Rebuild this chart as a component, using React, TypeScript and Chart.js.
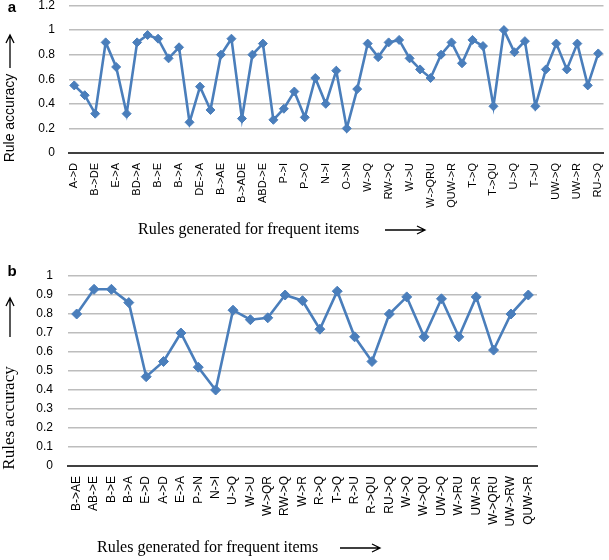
import React, { useEffect, useRef } from "react";
import { Chart, registerables } from "chart.js";

Chart.register(...registerables);

// ---------- Data ----------
// Chart a: only every other category name is printed on the axis
const shownLabelsA = [
  "A->D", "B->DE", "E->A", "BD->A", "B->E", "B->A", "DE->A", "B->AE", "B->ADE",
  "ABD->E", "P->I", "P->O", "N->I", "O->N", "W->Q", "RW->Q", "W->U", "W->QRU",
  "QUW->R", "T->Q", "T->QU", "U->Q", "T->U", "UW->Q", "UW->R", "RU->Q",
];
const valuesA = [
  0.55, 0.47, 0.32, 0.9, 0.7, 0.32, 0.9, 0.96, 0.93, 0.77, 0.86, 0.25, 0.54,
  0.35, 0.8, 0.93, 0.28, 0.8, 0.89, 0.27, 0.36, 0.5, 0.29, 0.61, 0.4, 0.67,
  0.2, 0.52, 0.89, 0.78, 0.9, 0.92, 0.77, 0.68, 0.61, 0.8, 0.9, 0.73, 0.92,
  0.87, 0.38, 1.0, 0.82, 0.91, 0.38, 0.68, 0.89, 0.68, 0.89, 0.55, 0.81,
];

const labelsB = [
  "B->AE", "AB->E", "B->E", "B->A", "E->D", "A->D", "E->A", "P->N", "N->I",
  "U->Q", "W->U", "W->QR", "RW->Q", "W->R", "R->Q", "T->Q", "R->U", "R->QU",
  "RU->Q", "W->Q", "W->QU", "UW->Q", "W->RU", "UW->R", "W->QRU", "UW->RW", "QUW->R",
];
const valuesB = [
  0.8, 0.93, 0.93, 0.86, 0.47, 0.55, 0.7, 0.52, 0.4, 0.82, 0.77, 0.78, 0.9,
  0.87, 0.72, 0.92, 0.68, 0.55, 0.8, 0.89, 0.68, 0.88, 0.68, 0.89, 0.61, 0.8, 0.9,
];

const categoriesA = valuesA.map((_, i) => (i % 2 === 0 ? shownLabelsA[i / 2] : ""));

const BLUE = "#4A7EBB";
const SANS = "'Liberation Sans', Arial, sans-serif";
const SERIF = "'Liberation Serif', 'Times New Roman', serif";

function drawArrow(ctx: CanvasRenderingContext2D, x1: number, y1: number, x2: number, y2: number) {
  const ang = Math.atan2(y2 - y1, x2 - x1);
  const hl = 8, hw = 4;
  ctx.save();
  ctx.strokeStyle = "#000";
  ctx.lineWidth = 1.3;
  ctx.beginPath();
  ctx.moveTo(x1, y1);
  ctx.lineTo(x2, y2);
  ctx.moveTo(x2 - hl * Math.cos(ang) + hw * Math.sin(ang), y2 - hl * Math.sin(ang) - hw * Math.cos(ang));
  ctx.lineTo(x2, y2);
  ctx.lineTo(x2 - hl * Math.cos(ang) - hw * Math.sin(ang), y2 - hl * Math.sin(ang) + hw * Math.cos(ang));
  ctx.stroke();
  ctx.restore();
}

type Annot = {
  letter: string; letterX: number; letterY: number;
  yTitle: string; yTitleFont: string; yTitleX: number; yTitleY: number;
  yArrow: [number, number, number, number];
  xTitle: string; xTitleFont: string; xTitleX: number; xTitleY: number;
  xArrow: [number, number, number, number];
};

function annotPlugin(a: Annot) {
  return {
    id: "annot",
    afterDraw(chart: any) {
      const ctx: CanvasRenderingContext2D = chart.ctx;
      ctx.save();
      ctx.fillStyle = "#000";
      ctx.font = `bold 15px ${SANS}`;
      ctx.textAlign = "center";
      ctx.textBaseline = "middle";
      ctx.fillText(a.letter, a.letterX, a.letterY);

      ctx.save();
      ctx.translate(a.yTitleX, a.yTitleY);
      ctx.rotate(-Math.PI / 2);
      ctx.font = a.yTitleFont;
      ctx.textAlign = "center";
      ctx.textBaseline = "middle";
      ctx.fillText(a.yTitle, 0, 0);
      ctx.restore();

      drawArrow(ctx, ...a.yArrow);

      ctx.font = a.xTitleFont;
      ctx.textAlign = "left";
      ctx.textBaseline = "middle";
      ctx.fillText(a.xTitle, a.xTitleX, a.xTitleY);
      drawArrow(ctx, ...a.xArrow);
      ctx.restore();
    },
  };
}

function makeConfig(
  labels: string[], values: number[], yMax: number, step: number,
  xHeight: number, yWidth: number, topPad: number, rightPad: number, yPad: number, xPad: number,
  tickSize: number, radius: number, annot: Annot
): any {
  return {
    type: "line",
    data: {
      labels,
      datasets: [{
        data: values,
        borderColor: BLUE,
        backgroundColor: BLUE,
        borderWidth: 2.6,
        pointStyle: "rectRot",
        pointRadius: radius,
        pointBorderWidth: 1,
        pointBorderColor: BLUE,
        pointBackgroundColor: BLUE,
        tension: 0,
      }],
    },
    options: {
      animation: false,
      responsive: false,
      maintainAspectRatio: false,
      layout: { padding: { left: 0, top: 0, bottom: 0, right: rightPad } },
      plugins: { legend: { display: false }, tooltip: { enabled: false } },
      scales: {
        x: {
          offset: true,
          grid: { display: false, drawTicks: false },
          border: { display: true, color: "#404040", width: 2 },
          ticks: {
            autoSkip: false, minRotation: 90, maxRotation: 90, padding: xPad,
            color: "#000", font: { size: tickSize, family: SANS },
          },
          afterFit(s: any) { s.height = xHeight; s.paddingLeft = 0; s.paddingRight = 0; },
        },
        y: {
          min: 0, max: yMax,
          ticks: {
            stepSize: step, padding: yPad, color: "#000",
            font: { size: 12, family: SANS },
            callback: (v: number) => String(Number(Number(v).toFixed(2))),
          },
          grid: { color: "#bdbdbd", lineWidth: 1.5, drawTicks: false },
          border: { display: false },
          afterFit(s: any) { s.width = yWidth; s.paddingTop = topPad; s.paddingBottom = 0; },
        },
      },
    },
    plugins: [annotPlugin(annot)],
  };
}

export default function App() {
  const refA = useRef<HTMLCanvasElement>(null);
  const refB = useRef<HTMLCanvasElement>(null);

  useEffect(() => {
    const topB = 262;
    const ca = new Chart(refA.current!, makeConfig(
      categoriesA, valuesA, 1.2, 0.2, 97, 69, 5, 1, 14, 10, 11, 4.5,
      {
        letter: "a", letterX: 12, letterY: 8,
        yTitle: "Rule accuracy", yTitleFont: `14px ${SANS}`, yTitleX: 10, yTitleY: 118,
        yArrow: [10, 68, 10, 35],
        xTitle: "Rules generated for frequent items", xTitleFont: `16px ${SERIF}`, xTitleX: 138, xTitleY: 230,
        xArrow: [385, 230, 425, 230],
      }
    ));
    const cb = new Chart(refB.current!, makeConfig(
      labelsB, valuesB, 1, 0.1, 94, 68, 14, 72, 15, 10, 12, 5,
      {
        letter: "b", letterX: 12, letterY: 272 - topB,
        yTitle: "Rules accuracy", yTitleFont: `17px ${SERIF}`, yTitleX: 10, yTitleY: 418 - topB,
        yArrow: [10, 337 - topB, 10, 298 - topB],
        xTitle: "Rules generated for frequent items", xTitleFont: `16px ${SERIF}`, xTitleX: 97, xTitleY: 548 - topB,
        xArrow: [340, 548 - topB, 380, 548 - topB],
      }
    ));
    return () => { ca.destroy(); cb.destroy(); };
  }, []);

  return (
    <div style={{ position: "fixed", left: 0, top: 0, width: 609, height: 560, background: "#fff", overflow: "hidden" }}>
      <canvas ref={refA} width={609} height={250} style={{ position: "absolute", left: 0, top: 0 }} />
      <canvas ref={refB} width={609} height={298} style={{ position: "absolute", left: 0, top: 262 }} />
    </div>
  );
}
